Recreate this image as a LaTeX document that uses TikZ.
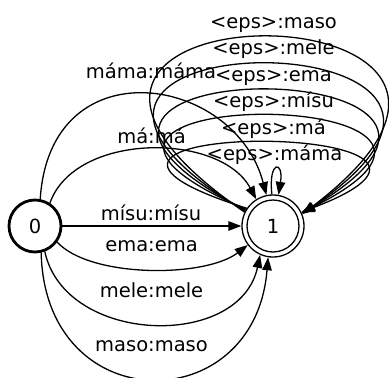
\documentclass[tikz,border=0pt]{standalone}
\usepackage{fontspec}
\setmainfont{DejaVu Sans}
\usetikzlibrary{arrows.meta}
\begin{document}
\begin{tikzpicture}[x=1pt,y=-1pt,
  font=\fontsize{19.5}{23}\selectfont,
  state/.style={circle,draw,inner sep=0pt,line width=1.3pt},
  edge/.style={line width=1.3pt,-{Triangle[length=13pt,width=9.5pt]}},
  lbl/.style={anchor=base,inner sep=0pt}]
\useasboundingbox (0,0) rectangle (389,378);
% states
\node[state,line width=2.8pt,minimum size=52pt] (n0) at (35,226) {0};
\node[state,minimum size=62pt] (n1) at (273,226) {1};
\draw[line width=1.3pt] (n1.center) circle[radius=26pt];
% transitions 0 -> 1
\draw[edge] (n0.79) .. controls (50,45) and (235,75) .. (n1.102);
\draw[edge] (n0.57) .. controls (75,132) and (220,132) .. (n1.122);
\draw[edge] (n0.0) -- (n1.180);
\draw[edge] (n0.-36) .. controls (90,278) and (205,278) .. (n1.217);
\draw[edge] (n0.-69) .. controls (65,345) and (240,350) .. (n1.246);
\draw[edge] (n0.-77) .. controls (45,420) and (255,420) .. (n1.261);
% self loops on 1
\draw[edge] (n1.92) .. controls (268,160) and (284,160) .. (n1.80);
\draw[edge] (n1.146) .. controls (-36,119) and (546,119) .. (n1.26);
\draw[edge] (n1.148) .. controls (-49,83) and (563,83) .. (n1.25);
\draw[edge] (n1.150) .. controls (-66,49) and (579,49) .. (n1.24);
\draw[edge] (n1.152) .. controls (-83,14) and (596,14) .. (n1.23);
\draw[edge] (n1.154) .. controls (-96,-22) and (613,-22) .. (n1.22);
% labels
\node[lbl] (l1) at (151,78) {máma:máma};
\node[lbl] (l2) at (151.5,143) {má:má};
\node[lbl] (l3) at (151,220) {mísu:mísu};
\node[lbl] (l4) at (151.5,251) {ema:ema};
\node[lbl] (l5) at (151.5,297) {mele:mele};
\node[lbl] (l6) at (151.5,351) {maso:maso};
\node[lbl] (e1) at (273.5,28) {<eps>:maso};
\node[lbl] (e2) at (273.5,54.5) {<eps>:mele};
\node[lbl] (e3) at (273.5,81) {<eps>:ema};
\node[lbl] (e4) at (273.5,107.5) {<eps>:mísu};
\node[lbl] (e5) at (273.5,134) {<eps>:má};
\node[lbl] (e6) at (274.5,160.5) {<eps>:máma};
\end{tikzpicture}
\end{document}
